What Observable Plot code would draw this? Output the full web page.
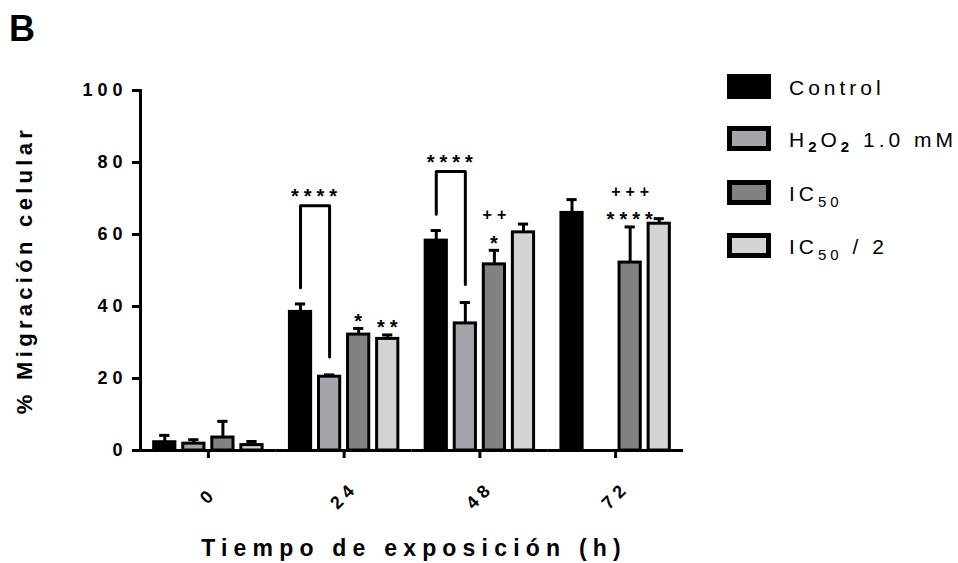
<!DOCTYPE html>
<html>
<head>
<meta charset="utf-8">
<script src="https://cdn.jsdelivr.net/npm/d3@7"></script>
<script src="https://cdn.jsdelivr.net/npm/@observablehq/plot@0.6"></script>
<style>
  body { margin: 0; background: #fff; }
  #fig { position: relative; width: 958px; height: 563px; overflow: hidden;
         font-family: "Liberation Sans", Arial, Helvetica, sans-serif; color: #000; }
  #fig svg { position: absolute; left: 0; top: 0; }
  .panel { position: absolute; left: 9px; top: 11px; font-size: 36px; font-weight: bold; line-height: 1; }
  .ytitle { position: absolute; left: 25px; top: 270px; white-space: nowrap;
            font-size: 22px; font-weight: bold; letter-spacing: 4.3px;
            transform: translate(-50%, -50%) rotate(-90deg); }
  .xtitle { position: absolute; left: 414px; top: 548px; white-space: nowrap;
            font-size: 23px; font-weight: bold; letter-spacing: 6.2px;
            transform: translate(-50%, -50%); }
  .legend { position: absolute; left: 727px; top: 0; }
  .legend .row { position: absolute; left: 0; width: 240px; height: 25px; }
  .legend .sw { position: absolute; left: 0; top: 0; width: 44px; height: 25px;
                box-sizing: border-box; border: 5px solid #000; }
  .legend .lab { position: absolute; left: 62px; top: 50%; transform: translateY(-50%);
                 font-size: 21px; letter-spacing: 4px; white-space: nowrap; line-height: 1; }
  .legend sub { font-size: 15px; vertical-align: -6px; line-height: 0; }
  .legend sub.b { font-weight: bold; vertical-align: -5px; }
  g[aria-label="stars"] text, g[aria-label="bracket stars"] text { letter-spacing: 4px; }
  g[aria-label="plus"] text { letter-spacing: 5px; }
  g[aria-label^="y-axis"], g[aria-label^="fx-axis"], g[aria-label="frame"] { stroke-width: 3px; }
  g[aria-label^="y-axis"] text, g[aria-label^="fx-axis"] text { stroke: none; }
</style>
</head>
<body>
<div id="fig">
  <div class="panel">B</div>
  <div class="ytitle">% Migración celular</div>
  <div class="xtitle">Tiempo de exposición (h)</div>
  <div class="legend" id="legend"></div>
</div>
<script>
// Exposure times (h) and treatment groups
const times = ["0", "24", "48", "72"];
const groups = ["Control", "H2O2 1.0 mM", "IC50", "IC50 / 2"];
const groupFills = ["#000000", "#a5a5a9", "#828282", "#d4d4d4"];
const yTicks = [0, 20, 40, 60, 80, 100];

// Mean cell migration (%) and error per group, one value per time
const controlMean = [2.3, 38.5, 58.3, 66.0];
const controlErr  = [1.9, 2.2, 2.8, 3.7];
const h2o2Mean    = [1.9, 20.5, 35.3, null];
const h2o2Err     = [1.1, 0.5, 5.8, null];
const ic50Mean    = [3.6, 32.2, 51.7, 52.2];
const ic50Err     = [4.5, 1.7, 3.9, 9.9];
const halfMean    = [1.5, 31.0, 60.6, 63.0];
const halfErr     = [1.0, 1.1, 2.3, 1.4];

// Significance annotations
const starNotes = [
  {time: "24", group: "IC50", label: "*"},
  {time: "24", group: "IC50 / 2", label: "**"},
  {time: "48", group: "IC50", label: "*"},
  {time: "72", group: "IC50", label: "****"}
];
const plusNotes = [
  {time: "48", group: "IC50", label: "++"},
  {time: "72", group: "IC50", label: "+++"}
];
// Control vs H2O2 comparison brackets (level of the bracket bar, in %)
const brackets = [
  {time: "24", level: 68, label: "****"},
  {time: "48", level: 77.5, label: "****"}
];

const allMeans = [controlMean, h2o2Mean, ic50Mean, halfMean];
const allErrs = [controlErr, h2o2Err, ic50Err, halfErr];

const bars = [];
times.forEach((t, i) => {
  groups.forEach((g, k) => {
    const m = allMeans[k][i];
    if (m != null) bars.push({time: t, group: g, mean: m, err: allErrs[k][i], top: m + allErrs[k][i]});
  });
});
const barOf = (t, g) => bars.find(d => d.time === t && d.group === g);
const withTop = notes => notes.map(n => ({...n, y: barOf(n.time, n.group).top}));

const bracketPts = [];
brackets.forEach(b => {
  const a = barOf(b.time, groups[0]), c = barOf(b.time, groups[1]);
  bracketPts.push(
    {time: b.time, group: groups[0], y: a.top + 4.5},
    {time: b.time, group: groups[0], y: b.level},
    {time: b.time, group: groups[1], y: b.level},
    {time: b.time, group: groups[1], y: c.top + 5}
  );
});

const chart = Plot.plot({
  width: 958,
  height: 563,
  marginLeft: 140,
  marginRight: 275,
  marginTop: 90,
  marginBottom: 113,
  style: "font-family: 'Liberation Sans', Arial, sans-serif; font-weight: bold; font-size: 18px; letter-spacing: 5px; background: transparent; overflow: visible; color: #000;",
  fx: {domain: times, paddingInner: 0, paddingOuter: 0, round: false, label: null},
  x: {domain: groups, paddingInner: 0.27, paddingOuter: 0.47, round: false, axis: null},
  y: {domain: [0, 100], ticks: yTicks, tickSize: 8, tickPadding: 5, line: true, label: null},
  color: {domain: groups, range: groupFills},
  marks: [
    Plot.axisFx({anchor: "bottom", tickSize: 8, strokeWidth: 3, tickRotate: -45,
                 textAnchor: "middle", tickPadding: 37, label: null}),
    Plot.barY(bars, {fx: "time", x: "group", y: "mean", fill: "group", stroke: "#000", strokeWidth: 3}),
    Plot.ruleX(bars, {fx: "time", x: "group", y1: "mean", y2: "top", stroke: "#000", strokeWidth: 3}),
    Plot.tickY(bars, {fx: "time", x: "group", y: "top", stroke: "#000", strokeWidth: 3, insetLeft: 5.5, insetRight: 5.5}),
    Plot.ruleY([0], {stroke: "#000", strokeWidth: 3}),
    Plot.line(bracketPts, {fx: "time", x: "group", y: "y", z: "time", stroke: "#000", strokeWidth: 3}),
    Plot.text(brackets, {fx: "time", x: () => groups[0], y: "level", text: "label", dx: 16, dy: -9, fontSize: 20, ariaLabel: "bracket stars"}),
    Plot.text(withTop(starNotes), {fx: "time", x: "group", y: "y", text: "label", dx: 2, dy: -7, fontSize: 20, ariaLabel: "stars"}),
    Plot.text(withTop(plusNotes), {fx: "time", x: "group", y: "y", text: "label", dx: 2.5, dy: -35, fontSize: 16, ariaLabel: "plus"})
  ]
});
document.getElementById("fig").prepend(chart);

// Legend
const legendLabels = [
  "Control",
  "H<sub class=\"b\">2</sub>O<sub class=\"b\">2</sub> 1.0 mM",
  "IC<sub>50</sub>",
  "IC<sub>50</sub> / 2"
];
const legendTops = [74, 126, 180, 233];
const legend = document.getElementById("legend");
groups.forEach((g, i) => {
  const row = document.createElement("div");
  row.className = "row";
  row.style.top = legendTops[i] + "px";
  row.innerHTML = `<div class="sw" style="background:${groupFills[i]}"></div><div class="lab">${legendLabels[i]}</div>`;
  legend.appendChild(row);
});
</script>
</body>
</html>
